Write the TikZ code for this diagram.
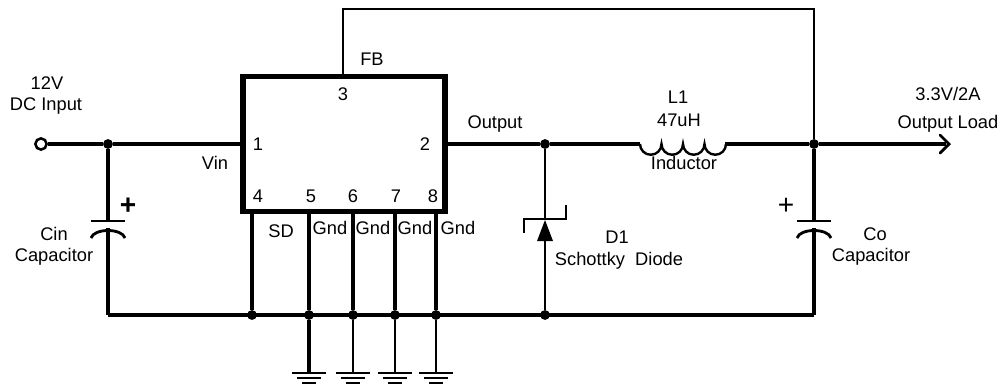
\documentclass[tikz,border=0pt]{standalone}
\usepackage{fontspec}
\setmainfont{Liberation Sans}
\usetikzlibrary{arrows, calc}
\tikzset{
    wire/.style={line width=2.2pt},
    dot/.style={circle, fill=black, inner sep=0pt, minimum size=7pt},
    lbl/.style={inner sep=0pt, font=\fontsize{13}{15}\selectfont},
}

\begin{document}
\begin{tikzpicture}[x=0.025cm, y=-0.025cm]
\useasboundingbox (0,0) rectangle (1003,384);

\node[draw, line width=4pt, minimum width=0.025cm*202, minimum height=0.025cm*135, inner sep=0pt] (ic) at (344, 144) {};

\node[circle, draw, line width=1.8pt, fill=white, inner sep=0pt, minimum size=8pt] (in) at (41, 144) {};
\node[dot] (jin) at (108, 144) {};
\node[dot] (jout) at (545, 144) {};
\node[dot] (jl) at (814, 144) {};
\node[dot] (b4) at (252, 315) {};
\node[dot] (b5) at (309, 315) {};
\node[dot] (b6) at (353, 315) {};
\node[dot] (b7) at (395, 315) {};
\node[dot] (b8) at (436, 315) {};
\node[dot] (bd) at (545, 315) {};
\coordinate (bcin) at (108, 315);
\coordinate (bco) at (814, 315);
\coordinate (load) at (949, 144);
\coordinate (lin) at (640, 144);
\coordinate (lout) at (725, 144);
\coordinate (fb) at (343, 9);

%% input
\draw[wire] (in) -- (jin);
\draw[wire] (jin) -- (ic.west |- jin);
\draw[wire] (ic.east |- jout) -- (jout);
\draw[wire] (jout) -- (lin);
\draw[wire] (lout) -- (jl);
\draw[wire] (jl) -- ($(load) + (-3, 0)$);
\draw[line width=2pt, line cap=round, line join=miter] ($(load) + (-9, -9)$) -- (load) -- ($(load) + (-9, 9)$);

%% inductor
\draw[line width=1.7pt] (lin) arc[start angle=180, end angle=0, radius=10.75] arc[start angle=180, end angle=0, radius=10.75] arc[start angle=180, end angle=0, radius=10.75] arc[start angle=180, end angle=0, radius=10.75];

%% FB
\draw[line width=1.6pt] (ic.north -| fb) -- (fb) -| (jl);

%% Cin
\coordinate (cintop) at (108, 221);
\coordinate (cinbot) at (108, 228);
\draw[wire] (jin) -- (cintop);
\draw[wire] (cinbot) -- (bcin);
\draw[line width=2pt] ($(cintop) + (-17, 0)$) -- ($(cintop) + (17, 0)$);
\draw[line width=2pt] ($(cinbot) + (-17, 10)$) .. controls ($(cinbot) + (-14, 0)$) and ($(cinbot) + (14, 0)$) .. ($(cinbot) + (17, 10)$);
\node[lbl, font=\fontsize{20}{20}\selectfont\bfseries] (pluscin) at (128, 206) {+};

%% Co
\coordinate (cotop) at (814, 221);
\coordinate (cobot) at (814, 228);
\draw[wire] (jl) -- (cotop);
\draw[wire] (cobot) -- (bco);
\draw[line width=2pt] ($(cotop) + (-17, 0)$) -- ($(cotop) + (17, 0)$);
\draw[line width=2pt] ($(cobot) + (-17, 10)$) .. controls ($(cobot) + (-14, 0)$) and ($(cobot) + (14, 0)$) .. ($(cobot) + (17, 10)$);
\node[lbl, font=\fontsize{20}{20}\selectfont] (plusco) at (786, 206) {+};

%% bottom rail
\draw[wire] (bcin) -- (bco);
\draw[wire] (b4) -- (ic.south -| b4);
\draw[wire] (b5) -- (ic.south -| b5);
\draw[wire] (b6) -- (ic.south -| b6);
\draw[wire] (b7) -- (ic.south -| b7);
\draw[wire] (b8) -- (ic.south -| b8);

%% diode
\coordinate (dtip) at (545, 220);
\coordinate (dbase) at (545, 241);
\draw[line width=1.8pt] (jout) -- (dtip);
\draw[line width=1.8pt] (dbase) -- (bd);
\fill (dtip) -- ($(dbase) + (-8, 0)$) -- ($(dbase) + (8, 0)$) -- cycle;
\draw[line width=1.8pt] ($(dtip) + (-21, 13)$) -- ($(dtip) + (-21, -1)$) -- ($(dtip) + (21, -1)$) -- ($(dtip) + (21, -15)$);

%% grounds
\coordinate (g5) at (309, 373);
\coordinate (g6) at (353, 373);
\coordinate (g7) at (395, 373);
\coordinate (g8) at (436, 373);
\draw[line width=2.2pt] (b5) -- (g5);
\draw[line width=1.5pt] (b6) -- (g6);
\draw[line width=1.5pt] (b7) -- (g7);
\draw[line width=0.8pt] (b8) -- (g8);
\draw[line width=1.5pt] ($(g5) + (-17, 0)$) -- ($(g5) + (17, 0)$);
\draw[line width=1.5pt] ($(g5) + (-12, 5)$) -- ($(g5) + (12, 5)$);
\draw[line width=1.5pt] ($(g5) + (-7, 10)$) -- ($(g5) + (7, 10)$);
\draw[line width=1.5pt] ($(g6) + (-17, 0)$) -- ($(g6) + (17, 0)$);
\draw[line width=1.5pt] ($(g6) + (-12, 5)$) -- ($(g6) + (12, 5)$);
\draw[line width=1.5pt] ($(g6) + (-7, 10)$) -- ($(g6) + (7, 10)$);
\draw[line width=1.5pt] ($(g7) + (-17, 0)$) -- ($(g7) + (17, 0)$);
\draw[line width=1.5pt] ($(g7) + (-12, 5)$) -- ($(g7) + (12, 5)$);
\draw[line width=1.5pt] ($(g7) + (-7, 10)$) -- ($(g7) + (7, 10)$);
\draw[line width=1.5pt] ($(g8) + (-17, 0)$) -- ($(g8) + (17, 0)$);
\draw[line width=1.5pt] ($(g8) + (-12, 5)$) -- ($(g8) + (12, 5)$);
\draw[line width=1.5pt] ($(g8) + (-7, 10)$) -- ($(g8) + (7, 10)$);

%% labels
\node[lbl] (t12v) at (47, 83) {12V};
\node[lbl] (tdc) at (46, 106) {DC Input};
\node[lbl] (tvin) at (215, 163) {Vin};
\node[lbl] (tcin) at (54, 234) {Cin};
\node[lbl] (tcincap) at (54, 257) {Capacitor};
\node[lbl] (p1) at (258, 144) {1};
\node[lbl] (p2) at (425, 144) {2};
\node[lbl] (p3) at (343, 94) {3};
\node[lbl] (p4) at (258, 196) {4};
\node[lbl] (p5) at (311, 196) {5};
\node[lbl] (p6) at (353, 196) {6};
\node[lbl] (p7) at (396, 196) {7};
\node[lbl] (p8) at (433, 196) {8};
\node[lbl] (tfb) at (372, 59) {FB};
\node[lbl] (tsd) at (281, 231) {SD};
\node[lbl] (tg5) at (330, 228) {Gnd};
\node[lbl] (tg6) at (373, 228) {Gnd};
\node[lbl] (tg7) at (415, 228) {Gnd};
\node[lbl] (tg8) at (458, 228) {Gnd};
\node[lbl] (tout) at (495, 124) {Output};
\node[lbl] (tl1) at (678, 97) {L1};
\node[lbl] (tval) at (679, 120) {47uH};
\node[lbl] (tind) at (684, 163) {Inductor};
\node[lbl] (td1) at (617, 237) {D1};
\node[lbl] (tsch) at (619, 261) {Schottky\ \ Diode};
\node[lbl] (tco) at (875, 234) {Co};
\node[lbl] (tcocap) at (871, 257) {Capacitor};
\node[lbl] (t33) at (948, 94) {3.3V/2A};
\node[lbl] (tload) at (948, 124) {Output Load};

\end{tikzpicture}
\end{document}
